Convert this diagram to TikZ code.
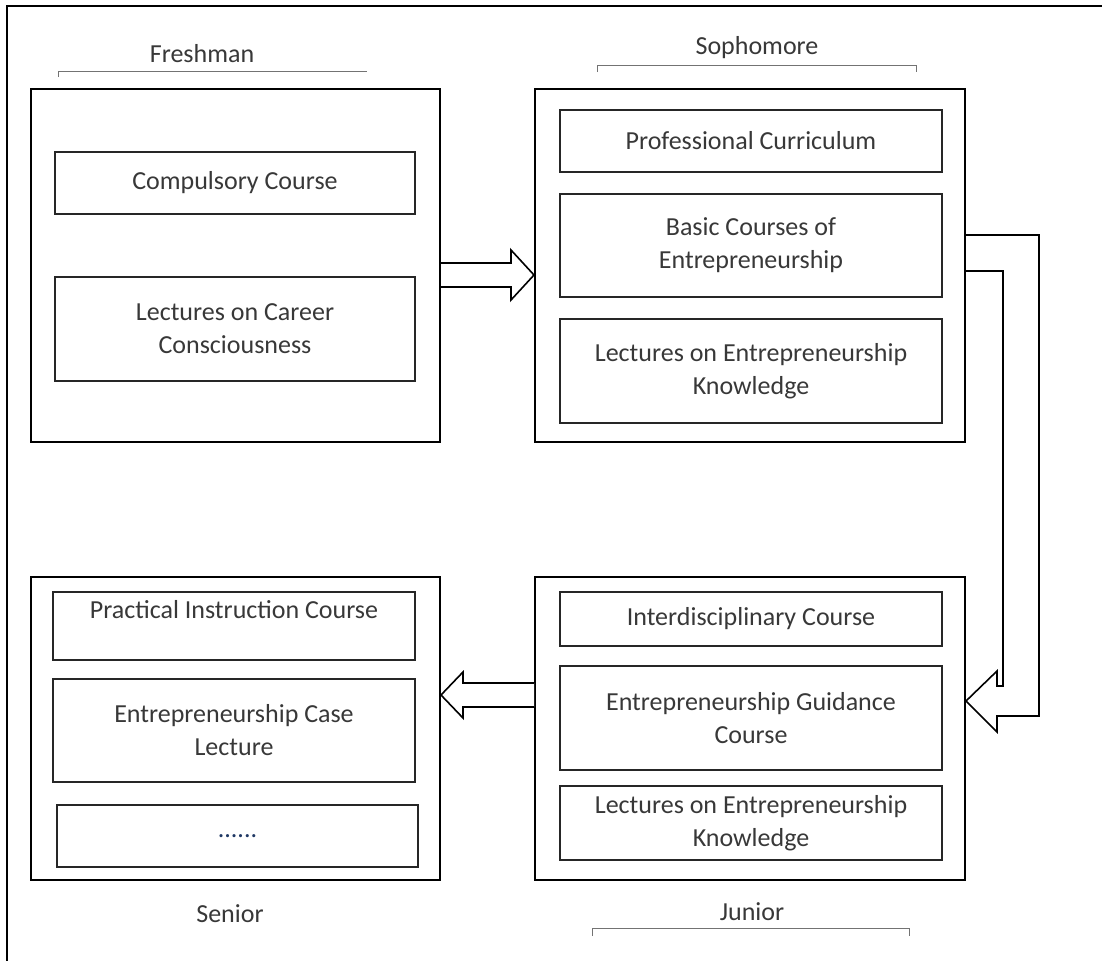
\documentclass[tikz,border=0pt]{standalone}
\usepackage{fontspec}
\setmainfont{Carlito}
\begin{document}
\begin{tikzpicture}[x=1pt,y=-1pt,
  txt/.style={text=black!78, font=\fontsize{26}{33}\selectfont, align=center},
  outerbox/.style={draw=black, line width=2pt, inner sep=0pt},
  innerbox/.style={draw=black!85, line width=1.3pt, inner sep=0pt, txt},
  yearlabel/.style={txt, inner sep=0pt},
  bracket/.style={draw=black!55, line width=1pt},
  blockarrow/.style={draw=black, line width=1.6pt, fill=white, line join=miter}]
\useasboundingbox (0,0) rectangle (1102,961);
% page frame (top and left edges only)
\draw[line width=2.5pt] (1102,6) -- (7,6) -- (7,961);

% Freshman
\node[yearlabel] (lfresh) at (202,54) {Freshman};
\draw[bracket] (58,77) -- (58,71) -- (367,71);
\node[outerbox, minimum width=409pt, minimum height=353pt] (fresh) at (235.5,265.5) {};
\node[innerbox, minimum width=360pt, minimum height=62pt] (comp) at (235,183) {Compulsory Course};
\node[innerbox, minimum width=360pt, minimum height=104pt] (career) at (235,329) {Lectures on Career\\Consciousness};

% Sophomore
\node[yearlabel] (lsoph) at (757,48) {Sophomore};
\draw[bracket] (597,72) -- (597,65) -- (916,65) -- (916,72);
\node[outerbox, minimum width=430pt, minimum height=353pt] (soph) at (750,265.5) {};
\node[innerbox, minimum width=382pt, minimum height=62pt] (prof) at (751,141) {Professional Curriculum};
\node[innerbox, minimum width=382pt, minimum height=103pt] (basic) at (751,245.5) {Basic Courses of\\Entrepreneurship};
\node[innerbox, minimum width=382pt, minimum height=104pt] (lek) at (751,371) {Lectures on Entrepreneurship\\Knowledge};

% Junior
\node[outerbox, minimum width=430pt, minimum height=303pt] (junior) at (750,728.5) {};
\node[innerbox, minimum width=382pt, minimum height=54pt] (inter) at (751,619) {Interdisciplinary Course};
\node[innerbox, minimum width=382pt, minimum height=104pt] (guide) at (751,718) {Entrepreneurship Guidance\\Course};
\node[innerbox, minimum width=382pt, minimum height=74pt] (lek2) at (751,823) {Lectures on Entrepreneurship\\Knowledge};
\node[yearlabel] (ljun) at (752,912) {Junior};
\draw[bracket] (592,936) -- (592,928) -- (909,928) -- (909,936);

% Senior
\node[outerbox, minimum width=409pt, minimum height=303pt] (senior) at (235.5,728.5) {};
\node[innerbox, minimum width=362pt, minimum height=68pt] (pract) at (234,626) {};
\node[txt] at (pract.north) [anchor=north, yshift=-6pt] {Practical Instruction Course};
\node[innerbox, minimum width=362pt, minimum height=103pt] (case) at (234,730.5) {Entrepreneurship Case\\Lecture};
\node[innerbox, minimum width=361pt, minimum height=62pt] (more) at (237.5,836) {\textcolor[HTML]{1F3864}{......}};
\node[yearlabel] (lsen) at (230,914) {Senior};

% block arrows
\draw[blockarrow] (fresh.east |- 0,263) -- (511,263) -- (511,250) -- (soph.west |- 0,275)
  -- (511,300) -- (511,287) -- (fresh.east |- 0,287);
\draw[blockarrow] (soph.east |- 0,235) -- (1039,235) -- (1039,716) -- (997,716) -- (997,732)
  -- (junior.east |- 0,701) -- (997,671) -- (997,686) -- (1003,686) -- (1003,271) -- (soph.east |- 0,271);
\draw[blockarrow] (junior.west |- 0,707) -- (463,707) -- (463,718) -- (senior.east |- 0,695)
  -- (463,672) -- (463,683) -- (junior.west |- 0,683);
\end{tikzpicture}
\end{document}
